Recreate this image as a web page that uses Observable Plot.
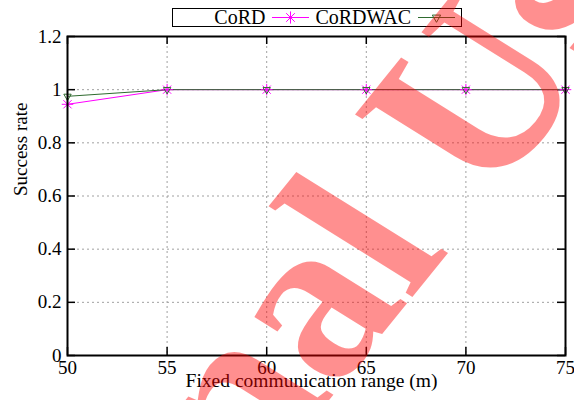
<!DOCTYPE html>
<html><head><meta charset="utf-8">
<script src="https://cdn.jsdelivr.net/npm/d3@7"></script>
<script src="https://cdn.jsdelivr.net/npm/@observablehq/plot@0.6"></script>
<style>
html,body{margin:0;padding:0;overflow:hidden;background:#fff;}
#wrap{position:relative;width:574px;height:400px;}
#legend{position:absolute;left:172px;top:8px;width:288px;height:17px;border:1.5px solid #000;font-family:"Liberation Serif",serif;font-size:20px;display:flex;align-items:center;justify-content:flex-end;box-sizing:content-box;}
#legend span{line-height:17px;margin-right:7px;}
#legend svg.sw{margin-right:6px;}
#chart svg{position:absolute;left:0;top:0;}
</style></head><body>
<div id="wrap"><div id="legend"></div><div id="chart"></div></div>
<script>
const ranges = [50, 55, 60, 65, 70, 75];
const cord = [0.945, 1, 1, 1, 1, 1];
const cordwac = [0.975, 1, 1, 1, 1, 1];
const seriesNames = ["CoRD", "CoRDWAC"];
const seriesColors = ["#ff00ff", "#2f6b2f"];
const xTicks = [50, 55, 60, 65, 70, 75];
const xTickLabels = ["50", "55", "60", "65", "70", "75"];
const yTicks = [0, 0.2, 0.4, 0.6, 0.8, 1, 1.2];
const yTickLabels = ["0", "0.2", "0.4", "0.6", "0.8", "1", "1.2"];
const xTitle = "Fixed communication range (m)";
const yTitle = "Success rate";
const watermark = "Personal Use Only";

const rows = [];
ranges.forEach((x, i) => {
  rows.push({x, y: cord[i], s: seriesNames[0]});
  rows.push({x, y: cordwac[i], s: seriesNames[1]});
});
const cordPts = ranges.map((x, i) => ({x, y: cord[i]}));
const wacPts = ranges.map((x, i) => ({x, y: cordwac[i]}));

// legend
const legend = d3.select("#legend");
seriesNames.forEach((name, i) => {
  legend.append("span").text(name);
  const sw = legend.append("svg").attr("class", "sw").attr("width", 37).attr("height", 17);
  sw.append("line").attr("x1", 0).attr("x2", 37).attr("y1", 8.5).attr("y2", 8.5)
    .attr("stroke", seriesColors[i]).attr("stroke-width", 1);
  const g = sw.append("g").attr("transform", "translate(18.5,8.5)").attr("fill", "none").attr("stroke", seriesColors[i]);
  if (i === 0) {
    g.append("path").attr("d", d3.symbol(d3.symbolPlus, 50)());
    g.append("path").attr("d", d3.symbol(d3.symbolTimes, 50)());
  } else {
    g.append("path").attr("transform", "rotate(180)").attr("d", d3.symbol(d3.symbolTriangle2, 50)());
  }
});

const FONT = "Liberation Serif, Times New Roman, serif";
const tickStyle = {stroke: "black", strokeWidth: 1.5};
const gridStyle = {stroke: "#a0a0a0", strokeOpacity: 1, strokeDasharray: "2,3", strokeWidth: 1};
const wmAngle = -54.6, wmSquash = 0.879, wmTarget = [430, 275];

const plot = Plot.plot({
  width: 574, height: 400,
  marginLeft: 67, marginRight: 9, marginTop: 36, marginBottom: 45,
  x: {domain: [50, 75], label: null},
  y: {domain: [0, 1.2], label: null},
  color: {domain: seriesNames, range: seriesColors},
  style: {background: "transparent", color: "black"},
  marks: [
    Plot.gridX(xTicks.slice(1, -1), gridStyle),
    Plot.gridY(yTicks.slice(1, -1), gridStyle),
    Plot.tickX(xTicks, {x: d => d, insetTop: 311, ...tickStyle}),
    Plot.tickX(xTicks, {x: d => d, insetBottom: 311, ...tickStyle}),
    Plot.tickY(yTicks, {y: d => d, insetRight: 490, ...tickStyle}),
    Plot.tickY(yTicks, {y: d => d, insetLeft: 490, ...tickStyle}),
    Plot.axisX(xTicks, {tickSize: 0, tickPadding: 5, tickFormat: d => xTickLabels[xTicks.indexOf(d)], label: null, fontFamily: FONT, fontSize: 19}),
    Plot.axisY(yTicks, {tickSize: 0, tickPadding: 6, tickFormat: d => yTickLabels[yTicks.indexOf(d)], label: null, fontFamily: FONT, fontSize: 19}),
    Plot.line(rows, {x: "x", y: "y", z: "s", stroke: "s", strokeWidth: 1}),
    Plot.dot(cordPts, {x: "x", y: "y", symbol: "plus", r: 3.8, stroke: seriesColors[0], strokeWidth: 1}),
    Plot.dot(cordPts, {x: "x", y: "y", symbol: "times", r: 3.8, stroke: seriesColors[0], strokeWidth: 1}),
    Plot.dot(wacPts, {x: "x", y: "y", symbol: "triangle2", rotate: 180, r: 3.5, stroke: seriesColors[1], fill: "none", strokeWidth: 1}),
    Plot.frame({stroke: "black", strokeWidth: 2}),
    Plot.text([xTitle], {text: d => d, frameAnchor: "bottom", dy: 31, dx: -5, fontFamily: FONT, fontSize: 19.5}),
    Plot.text([yTitle], {text: d => d, frameAnchor: "left", rotate: -90, dx: -47, fontFamily: FONT, fontSize: 19}),
    Plot.text([watermark], {text: d => d, frameAnchor: "middle", rotate: wmAngle, textAnchor: "start", fontSize: 255, fontWeight: "bold", fontFamily: FONT, fill: "red", fillOpacity: 0.44})
  ]
});
document.getElementById("chart").appendChild(plot);

// place the (vertically squashed) watermark so that its "l" sits where the reference shows it
const wmNode = d3.select(plot).selectAll("text").filter(function () { return this.textContent === watermark; }).node();
if (wmNode) {
  const idx = watermark.indexOf("l U");
  const p0 = wmNode.getStartPositionOfChar(idx), p1 = wmNode.getEndPositionOfChar(idx);
  const mx = (p0.x + p1.x) / 2, my = p0.y;
  const th = wmAngle * Math.PI / 180;
  const rx = mx * Math.cos(th) - my * Math.sin(th);
  const ry = (mx * Math.sin(th) + my * Math.cos(th)) * wmSquash;
  const ctm = wmNode.parentNode.getCTM();
  const X = wmTarget[0] - rx - (ctm ? ctm.e : 0), Y = wmTarget[1] - ry - (ctm ? ctm.f : 0);
  wmNode.setAttribute("transform", `translate(${X},${Y}) scale(1,${wmSquash}) rotate(${wmAngle})`);
}
</script>
</body></html>
